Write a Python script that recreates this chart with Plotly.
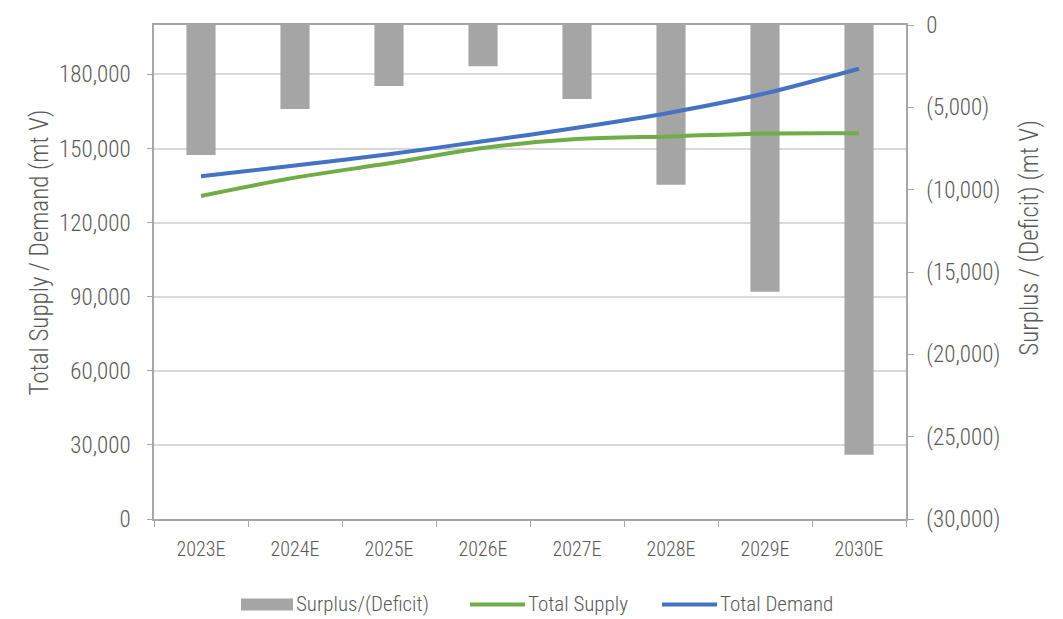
import plotly.graph_objects as go

years = ["2023E", "2024E", "2025E", "2026E", "2027E", "2028E", "2029E", "2030E"]
total_supply = [130800, 138200, 144000, 150200, 153800, 154900, 156100, 156200]
total_demand = [138800, 143100, 147700, 152900, 158400, 164600, 172300, 182300]
surplus_deficit = [-7900, -5100, -3700, -2500, -4500, -9700, -16200, -26100]

left_ticks = [0, 30000, 60000, 90000, 120000, 150000, 180000]
right_ticks = [0, -5000, -10000, -15000, -20000, -25000, -30000]
right_tick_text = ["0" if v == 0 else f"({abs(v):,})" for v in right_ticks]

FONT = "Roboto Condensed, sans-serif"
TEXT = "#595959"
AXIS = "#A6A6A6"
GRID = "#D9D9D9"
GREY_BAR = "#A5A5A5"
GREEN = "#70AD47"
BLUE = "#4472C4"

fig = go.Figure()

# Bars sit on the base (right-hand) axis so the lines overlay them
fig.add_trace(go.Bar(
    x=years, y=surplus_deficit, yaxis="y", width=0.31,
    marker=dict(color=GREY_BAR, line=dict(width=0)),
    name="Surplus/(Deficit)", showlegend=False,
))
fig.add_trace(go.Scatter(
    x=years, y=total_supply, yaxis="y2", mode="lines", name="Total Supply",
    line=dict(color=GREEN, width=4, shape="spline", smoothing=0.8),
    showlegend=False,
))
fig.add_trace(go.Scatter(
    x=years, y=total_demand, yaxis="y2", mode="lines", name="Total Demand",
    line=dict(color=BLUE, width=4, shape="spline", smoothing=0.8),
    showlegend=False,
))

tick_font = dict(size=23, color=TEXT, family=FONT, weight=300)
title_font = dict(size=25, color=TEXT, family=FONT, weight=300)

fig.update_layout(
    width=1063, height=619,
    margin=dict(l=154, r=157, t=22, b=100),
    paper_bgcolor="white", plot_bgcolor="white",
    font=dict(family=FONT, size=20, color=TEXT),
    xaxis=dict(
        type="category", showline=True, linecolor=AXIS, linewidth=1.5,
        mirror=True, ticks="outside", tickson="boundaries", ticklen=6,
        tickcolor=AXIS, showgrid=False, ticklabelstandoff=11,
        tickfont=dict(size=20, color=TEXT, family=FONT, weight=300),
    ),
    yaxis=dict(
        side="right", range=[-30000, 0],
        tickvals=right_ticks, ticktext=right_tick_text,
        showline=True, linecolor=AXIS, linewidth=1.5,
        ticks="outside", ticklen=6, tickcolor=AXIS,
        showgrid=False, zeroline=False, ticklabelstandoff=8,
        tickfont=tick_font,
    ),
    yaxis2=dict(
        overlaying="y", side="left", range=[0, 200000],
        tickvals=left_ticks, tickformat=",",
        showline=True, linecolor=AXIS, linewidth=1.5,
        ticks="outside", ticklen=5, tickcolor=AXIS,
        showgrid=True, gridcolor=GRID, gridwidth=1.5, zeroline=False,
        ticklabelstandoff=12,
        tickfont=tick_font,
    ),
)

W, H = 1063, 619
pw = W - 154 - 157
ph = H - 22 - 100


def paper_x(px):
    return (px - 154) / pw


def paper_y(py):
    return (H - 100 - py) / ph


# Axis titles, rotated, placed beside the tick labels
fig.add_annotation(xref="paper", yref="paper", x=paper_x(40), y=paper_y(251),
                   xanchor="center", yanchor="middle", showarrow=False,
                   textangle=-90, text="Total Supply / Demand (mt V)",
                   font=title_font)
fig.add_annotation(xref="paper", yref="paper", x=paper_x(1030), y=paper_y(236),
                   xanchor="center", yanchor="middle", showarrow=False,
                   textangle=-90, text="Surplus / (Deficit) (mt V)",
                   font=title_font)

# Legend row drawn below the plot
legend_items = [
    ("rect", GREY_BAR, "Surplus/(Deficit)", 241, 293),
    ("line", GREEN, "Total Supply", 470, 525),
    ("line", BLUE, "Total Demand", 662, 717),
]
ly = 605
for kind, color, label, x0, x1 in legend_items:
    px0 = paper_x(x0)
    px1 = paper_x(x1)
    py = paper_y(ly)
    if kind == "rect":
        fig.add_shape(type="rect", xref="paper", yref="paper",
                      x0=px0, x1=px1, y0=py - 6 / ph, y1=py + 6 / ph,
                      fillcolor=color, line=dict(width=0))
    else:
        fig.add_shape(type="line", xref="paper", yref="paper",
                      x0=px0, x1=px1, y0=py, y1=py,
                      line=dict(color=color, width=4))
    fig.add_annotation(xref="paper", yref="paper", x=px1 + 1 / pw, y=py,
                       xanchor="left", yanchor="middle", showarrow=False,
                       text=label, font=dict(size=21, color=TEXT, family=FONT, weight=300))

fig.write_html("out.html")
